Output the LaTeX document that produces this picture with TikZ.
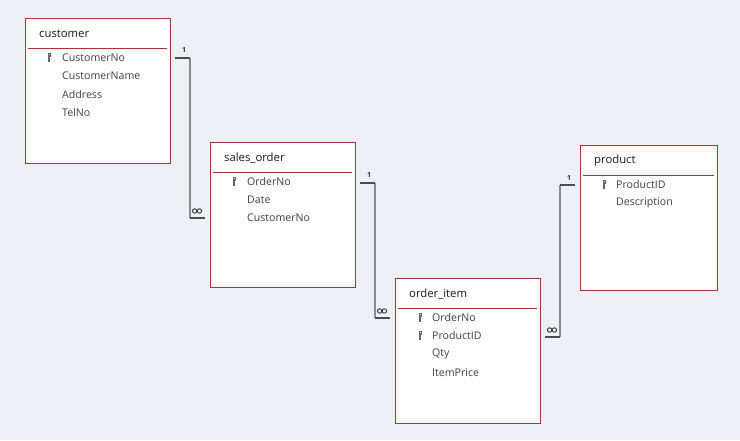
\documentclass[tikz,border=0pt]{standalone}
\usepackage{fontspec}
\setmainfont{Open Sans}
\begin{document}
\begin{tikzpicture}[x=1pt,y=-1pt,
  tbl/.style={draw=red!60!black!80,fill=white,line width=0.8pt},
  ttl/.style={anchor=west,font=\fontsize{11.3}{12}\selectfont,text=black!90,inner sep=0},
  fld/.style={anchor=west,font=\fontsize{10.6}{11}\selectfont,text=black!75,inner sep=0},
  stub/.style={draw=black!70,line width=2.5pt},
  rel/.style={draw=black!45,line width=1.6pt},
  card/.style={font=\bfseries\fontsize{7}{7}\selectfont,text=black!80}]
\fill[fill={rgb,255:red,239;green,239;blue,247}] (0,0) rectangle (740,440);
\newcommand{\keyicon}[2]{\fill[black!60] (#1-1.5,#2-5) rectangle (#1+1.5,#2-1.5); \fill[black!60] (#1-0.7,#2-1.5) rectangle (#1+0.7,#2+4); \fill[white] (#1-0.5,#2-4) rectangle (#1+0.5,#2-3);}
\newcommand{\tbox}[6]{% name x1 y1 x2 y2 title
  \node[tbl,minimum width=#4-#2,minimum height=#5-#3,anchor=north west,inner sep=0] (#1) at (#2,#3) {};
  \node[ttl] (#1-t) at (#2+14,#3+16) {#6};
  \draw[red!60!black!80,line width=0.8pt] (#2+3,#3+30) -- (#4-3,#3+30);}
\tbox{cust}{25}{18}{170}{163}{customer}
\node[fld] (c1) at (62,58) {CustomerNo}; \keyicon{49}{58}
\node[fld] (c2) at (62,76) {CustomerName};
\node[fld] (c3) at (62,95) {Address};
\node[fld] (c4) at (62,113) {TelNo};
\tbox{so}{210}{142}{355}{287}{sales\_order}
\node[fld] (s1) at (247,182) {OrderNo}; \keyicon{234}{182}
\node[fld] (s2) at (247,200) {Date};
\node[fld] (s3) at (247,218) {CustomerNo};
\tbox{oi}{395}{278}{540}{423}{order\_item}
\node[fld] (o1) at (432,318) {OrderNo}; \keyicon{420}{318}
\node[fld] (o2) at (432,336) {ProductID}; \keyicon{420}{336}
\node[fld] (o3) at (432,354) {Qty};
\node[fld] (o4) at (432,373) {ItemPrice};
\tbox{pr}{580}{145}{717}{290}{product}
\node[fld] (p1) at (616,185) {ProductID}; \keyicon{604}{185}
\node[fld] (p2) at (616,203) {Description};
% connectors
\newcommand{\infsym}[2]{\draw[black!75,line width=1pt] (#1-2.4,#2) circle (2.2) (#1+2.4,#2) circle (2.2);}
\coordinate (a1) at (175,58); \coordinate (a2) at (190,58); \coordinate (a3) at (190,218); \coordinate (a4) at (205,218);
\draw[rel] (a2) -- (a3);
\draw[stub] (a1) -- (a2); \draw[stub] (a3) -- (a4);
\node[card] (n1) at (184,50) {1}; \infsym{197}{211}
\coordinate (b1) at (360,183); \coordinate (b2) at (375,183); \coordinate (b3) at (375,318); \coordinate (b4) at (390,318);
\draw[rel] (b2) -- (b3);
\draw[stub] (b1) -- (b2); \draw[stub] (b3) -- (b4);
\node[card] (n2) at (369,175) {1}; \infsym{382}{311}
\coordinate (d1) at (545,337); \coordinate (d2) at (560,337); \coordinate (d3) at (560,185); \coordinate (d4) at (575,185);
\draw[rel] (d2) -- (d3);
\draw[stub] (d1) -- (d2); \draw[stub] (d3) -- (d4);
\node[card] (n3) at (569,178) {1}; \infsym{552}{330}
\end{tikzpicture}
\end{document}
